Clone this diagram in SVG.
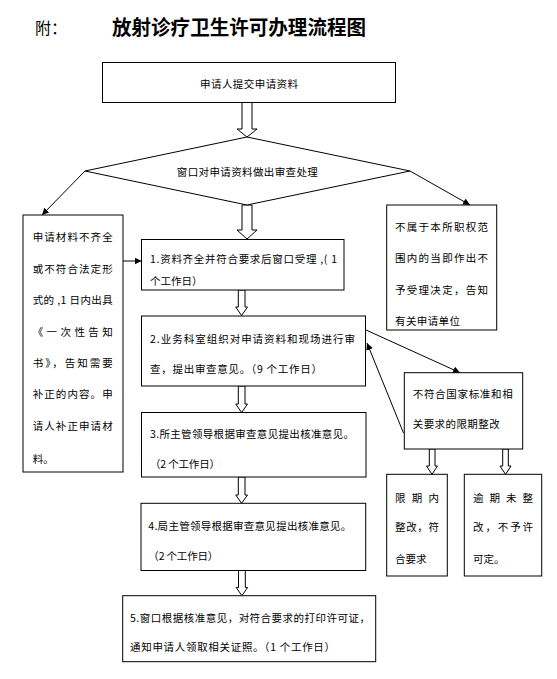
<svg xmlns="http://www.w3.org/2000/svg" width="557" height="679" viewBox="0 0 557 679">
<style>
.box{fill:#fff;stroke:#000;stroke-width:1}
.t{font-family:"Noto Sans CJK SC","Liberation Sans",sans-serif;font-size:10.5px;fill:#000;dominant-baseline:central}
.c{text-anchor:middle}
.ln{stroke:#000;stroke-width:1;fill:none;marker-end:url(#ah)}
.ha{fill:#fff;stroke:#000;stroke-width:1}
</style>
<defs>
<marker id="ah" viewBox="0 0 10 10" refX="10" refY="5" markerWidth="7" markerHeight="7" orient="auto" markerUnits="userSpaceOnUse">
<path d="M0,0 L10,5 L0,10 z" fill="#000"/>
</marker>
</defs>
<rect width="557" height="679" fill="#fff"/>
<g id="title">
<text x="35" y="34" style="font-family:'Noto Sans CJK SC','Liberation Sans',sans-serif;font-size:16px">附：</text>
<text x="112" y="35" textLength="254" lengthAdjust="spacingAndGlyphs" style="font-family:'Noto Sans CJK SC','Liberation Serif',serif;font-size:20px;font-weight:700">放射诊疗卫生许可办理流程图</text>
</g>
<g id="connectors">
<polygon class="ha" points="242,102 252,102 252,129 257,129 247,137 237,129 242,129"/>
<polygon class="ha" points="242,205 252,205 252,230 257,230 247,239 237,230 242,230"/>
<polygon class="ha" points="238.3,290 245,290 245,307 247.5,307 241.6,315.5 235.7,307 238.3,307"/>
<polygon class="ha" points="238.3,386 245,386 245,404 247.5,404 241.6,412.5 235.7,404 238.3,404"/>
<polygon class="ha" points="238.3,477 245,477 245,495 247.5,495 241.6,503.3 235.7,495 238.3,495"/>
<polygon class="ha" points="238.5,570.5 245.3,570.5 245.3,587.5 247.6,587.5 241.9,595.7 236.2,587.5 238.5,587.5"/>
<polygon class="ha" points="429.3,449 435,449 435,466 437.5,466 432,474.3 426.5,466 429.3,466"/>
<polygon class="ha" points="502.7,449 508.3,449 508.3,466 511,466 505.5,474.3 500,466 502.7,466"/>
<line class="ln" x1="85" y1="171" x2="42" y2="215"/>
<line class="ln" x1="410" y1="171" x2="470" y2="205"/>
<line class="ln" x1="123" y1="261" x2="141.5" y2="261"/>
<line class="ln" x1="366" y1="330" x2="460" y2="372.7"/>
<line class="ln" x1="403.5" y1="433" x2="367" y2="343"/>
</g>
<g id="n-submit">
<rect class="box" x="102.5" y="62.5" width="293" height="40"/>
<text class="t c" x="249" y="83" textLength="98">申请人提交申请资料</text>
</g>
<g id="n-review">
<polygon class="box" points="247,137 410,171 247,205 85,171"/>
<text class="t c" x="247.3" y="171.7" textLength="141">窗口对申请资料做出审查处理</text>
</g>
<g id="n-incomplete">
<rect class="box" x="23" y="215" width="100" height="257"/>
<text class="t" x="32.7" y="236.7" textLength="80">申请材料不齐全</text>
<text class="t" x="32.7" y="268.3" textLength="80">或不符合法定形</text>
<text class="t" x="32.7" y="299.3" textLength="80">式的 ,1 日内出具</text>
<text class="t" x="32.7" y="331" textLength="80">《一次性告知</text>
<text class="t" x="32.7" y="362.3" textLength="80">书》，告知需要</text>
<text class="t" x="32.7" y="393.3" textLength="80">补正的内容。申</text>
<text class="t" x="32.7" y="425" textLength="80">请人补正申请材</text>
<text class="t" x="32.7" y="458.3">料。</text>
</g>
<g id="n-step1">
<rect class="box" x="141.5" y="239.5" width="202.5" height="50.5"/>
<text class="t" x="150" y="258" textLength="187">1.资料齐全并符合要求后窗口受理 ,( 1</text>
<text class="t" x="150" y="280">个工作日）</text>
</g>
<g id="n-step2">
<rect class="box" x="141.5" y="316" width="224" height="70"/>
<text class="t" x="150" y="338.3" textLength="205">2.业务科室组织对申请资料和现场进行审</text>
<text class="t" x="150" y="368.3" textLength="172">查，提出审查意见。（9 个工作日）</text>
</g>
<g id="n-step3">
<rect class="box" x="141.5" y="412.5" width="224.5" height="64.5"/>
<text class="t" x="150" y="433.3" textLength="204">3.所主管领导根据审查意见提出核准意见。</text>
<text class="t" x="150" y="463.3" textLength="70">（2 个工作日）</text>
</g>
<g id="n-step4">
<rect class="box" x="141" y="503.3" width="224.7" height="67.2"/>
<text class="t" x="148.3" y="525.5" textLength="203">4.局主管领导根据审查意见提出核准意见。</text>
<text class="t" x="148.3" y="555" textLength="70">（2 个工作日）</text>
</g>
<g id="n-step5">
<rect class="box" x="122.7" y="595.7" width="253" height="66"/>
<text class="t" x="130" y="617.3" textLength="240">5.窗口根据核准意见，对符合要求的打印许可证，</text>
<text class="t" x="130" y="646.7" textLength="205">通知申请人领取相关证照。（1 个工作日）</text>
</g>
<g id="n-reject">
<rect class="box" x="386.7" y="205" width="110" height="125"/>
<text class="t" x="395" y="226" textLength="93">不属于本所职权范</text>
<text class="t" x="395" y="257.7" textLength="93">围内的当即作出不</text>
<text class="t" x="395" y="289" textLength="93">予受理决定，告知</text>
<text class="t" x="395" y="320" textLength="65">有关申请单位</text>
</g>
<g id="n-rectify">
<rect class="box" x="404.3" y="372.7" width="118.4" height="76.3"/>
<text class="t" x="412.7" y="393" textLength="100">不符合国家标准和相</text>
<text class="t" x="412.7" y="423" textLength="87">关要求的限期整改</text>
</g>
<g id="n-ontime">
<rect class="box" x="386.7" y="474.3" width="60.6" height="101.7"/>
<text class="t" x="395" y="497.7" textLength="44">限期内</text>
<text class="t" x="395" y="526.7" textLength="44">整改，符</text>
<text class="t" x="395" y="558.3">合要求</text>
</g>
<g id="n-overdue">
<rect class="box" x="464.3" y="474.3" width="77.4" height="101.7"/>
<text class="t" x="473" y="497.7" textLength="60">逾期未整</text>
<text class="t" x="473" y="526.7" textLength="60">改，不予许</text>
<text class="t" x="473" y="558.3">可定。</text>
</g>
</svg>
